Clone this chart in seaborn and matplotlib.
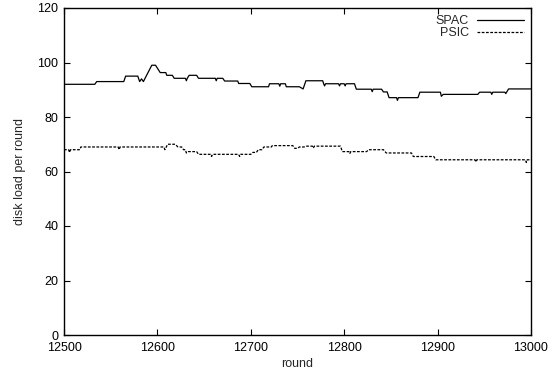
import matplotlib
matplotlib.use("Agg")
import matplotlib.pyplot as plt
import seaborn as sns
import pandas as pd

# SPAC knots (round, disk load per round)
spac_rounds = [12500, 12533, 12535, 12564, 12566, 12579, 12581, 12583, 12585, 12594,
               12598, 12603, 12609, 12610, 12616, 12618, 12630, 12631, 12632, 12634,
               12642, 12644, 12662, 12663, 12664, 12670, 12672, 12686, 12687, 12689,
               12699, 12701, 12719, 12720, 12730, 12731, 12732, 12737, 12738, 12752,
               12756, 12759, 12777, 12778, 12779, 12780, 12794, 12795, 12796, 12800,
               12801, 12802, 12811, 12813, 12829, 12830, 12831, 12840, 12842, 12846,
               12848, 12856, 12857, 12858, 12879, 12881, 12903, 12904, 12906, 12943,
               12945, 12957, 12958, 12959, 12972, 12973, 12976, 13000]
spac_values = [92, 92, 93, 93, 95, 95, 93, 94, 93, 99,
               99, 96.3, 96.3, 95.3, 95.3, 94.2, 94.2, 93.3, 94.2, 95.3,
               95.3, 94.2, 94.2, 93.3, 94.2, 94.2, 93.2, 93.2, 92.3, 92.3,
               92.3, 91.1, 91.1, 92.2, 92.2, 91.3, 92.2, 92.2, 91.1, 91.1,
               90.3, 93.3, 93.3, 92.2, 91.4, 92.2, 92.2, 91.4, 92.2, 92.2,
               91.4, 92.2, 92.2, 90.2, 90.2, 89.3, 90.2, 90.2, 89.2, 89.2,
               87.1, 87.1, 86.1, 87.1, 87.1, 89.1, 89.1, 87.6, 88.3, 88.3,
               89.1, 89.1, 88.3, 89.1, 89.1, 88.6, 90.3, 90.3]

# PSIC knots
psic_rounds = [12500, 12505, 12506, 12507, 12517, 12518, 12558, 12559, 12560, 12607,
               12608, 12611, 12619, 12622, 12626, 12628, 12630, 12631, 12633, 12642,
               12644, 12657, 12658, 12659, 12687, 12688, 12689, 12700, 12702, 12706,
               12708, 12712, 12714, 12722, 12723, 12745, 12747, 12750, 12752, 12757,
               12759, 12766, 12767, 12768, 12796, 12798, 12805, 12806, 12807, 12824,
               12826, 12842, 12845, 12872, 12874, 12896, 12898, 12940, 12941, 12942,
               12994, 12995, 12996, 13000]
psic_values = [68, 68, 67, 68, 68, 69, 69, 68, 69, 69,
               68, 70, 70, 69, 69, 68, 68, 66.8, 67.3, 67.3,
               66.3, 66.3, 65.5, 66.3, 66.3, 65.5, 66.3, 66.3, 67, 67,
               68, 68, 69, 69, 69.5, 69.5, 68.5, 68.5, 69, 69,
               69.3, 69.3, 68.6, 69.3, 69.3, 67.3, 67.3, 66.6, 67.3, 67.3,
               68, 68, 66.8, 66.8, 65.5, 65.5, 64.3, 64.3, 63.5, 64.3,
               64.3, 63.3, 64.3, 64.3]

x_ticks = [12500, 12600, 12700, 12800, 12900, 13000]
y_ticks = [0, 20, 40, 60, 80, 100, 120]

sns.set_style("ticks")
plt.rcParams['font.family'] = ['Liberation Sans', 'DejaVu Sans']

fig = plt.figure(figsize=(5.55, 3.80), dpi=100)
ax = fig.add_axes([64/555, 1-335/380, (531-64)/555, (335-8)/380])

spac = pd.DataFrame({"round": spac_rounds, "load": spac_values})
psic = pd.DataFrame({"round": psic_rounds, "load": psic_values})

sns.lineplot(data=spac, x="round", y="load", ax=ax, color="black", lw=0.9,
             label="SPAC", estimator=None, sort=False)
sns.lineplot(data=psic, x="round", y="load", ax=ax, color="black", lw=0.9,
             linestyle=(0, (2.2, 1.2)), label="PSIC", estimator=None, sort=False)

ax.set_xlim(12500, 13000)
ax.set_ylim(0, 120)
ax.set_xticks(x_ticks)
ax.set_yticks(y_ticks)
ax.tick_params(direction="in", length=4, width=0.8, top=True, right=True,
               labelsize=9, colors="black")
ax.tick_params(axis="x", pad=5)
ax.tick_params(axis="y", pad=4)
for s in ax.spines.values():
    s.set_linewidth(1.0)
    s.set_color("black")
    s.set_visible(True)

ax.set_xlabel("round", fontsize=9, labelpad=3)
ax.set_ylabel("disk load per round", fontsize=9, labelpad=8)

leg = ax.legend(loc="upper right", frameon=False, markerfirst=False, fontsize=9,
                handlelength=3.75, handletextpad=0.6, borderaxespad=0.2,
                labelspacing=0.0)
for t in leg.get_texts():
    t.set_ha("right")

fig.savefig("out.png", dpi=100)
